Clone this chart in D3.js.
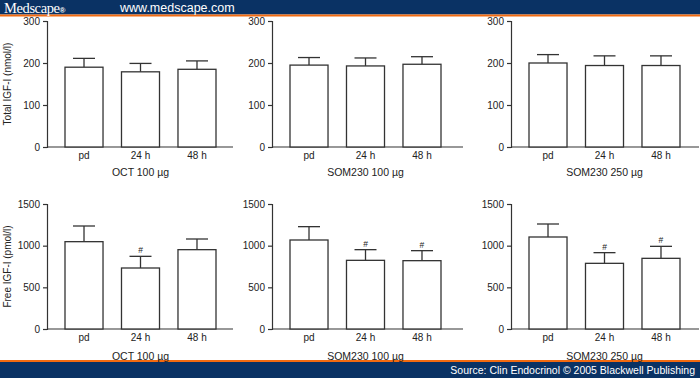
<!DOCTYPE html>
<html><head><meta charset="utf-8">
<script src="https://cdn.jsdelivr.net/npm/d3@7"></script>
<style>body{margin:0;background:#fff}svg{display:block}</style>
</head><body>
<svg id="c" width="700" height="378"></svg>
<script>
const categories = ["pd", "24 h", "48 h"];
const treatments = ["OCT 100 µg", "SOM230 100 µg", "SOM230 250 µg"];
// Total IGF-I (nmol/l): mean and mean+SEM
const totalMean = [[190, 179, 185], [195, 193, 197], [200, 194, 194]];
const totalErr  = [[211, 199, 205], [213, 212, 215], [220, 217, 217]];
// Free IGF-I (pmol/l)
const freeMean = [[1048, 732, 952], [1068, 824, 820], [1104, 788, 848]];
const freeErr  = [[1236, 872, 1080], [1228, 952, 940], [1260, 916, 992]];
const freeSig  = [[false, true, false], [false, true, true], [false, true, true]];
const totalTicks = [0, 100, 200, 300];
const freeTicks = [0, 500, 1000, 1500];
const yTitles = ["Total IGF-I (nmol/l)", "Free IGF-I (pmol/l)"];

const svg = d3.select("#c");
const font = "Helvetica, Arial, 'Liberation Sans', sans-serif";
const ink = "#333";

// header
svg.append("rect").attr("x",0).attr("y",0).attr("width",700).attr("height",14.5).attr("fill","#0a3264");
svg.append("rect").attr("x",0).attr("y",14.5).attr("width",700).attr("height",2).attr("fill","#f26a10");
svg.append("text").attr("x",4).attr("y",12.5).attr("fill","#fff")
  .attr("font-family","'Liberation Serif','DejaVu Serif',serif").attr("font-size",14.5).attr("letter-spacing",-0.4)
  .text("Medscape").append("tspan").attr("font-size",8).attr("font-family",font).attr("font-weight","bold").text("®");
svg.append("text").attr("x",120).attr("y",12).attr("fill","#fff").attr("font-family",font).attr("font-size",12.5).text("www.medscape.com");
// footer
svg.append("rect").attr("x",0).attr("y",360).attr("width",700).attr("height",2).attr("fill","#f26a10");
svg.append("rect").attr("x",0).attr("y",362).attr("width",700).attr("height",16).attr("fill","#0a3264");
svg.append("text").attr("x",695).attr("y",374).attr("text-anchor","end").attr("fill","#fff").attr("font-family",font).attr("font-size",10.5).text("Source: Clin Endocrinol © 2005 Blackwell Publishing");

const axisX = [47, 272, 511];
const axisEnd = [233, 463, 699];
const rows = [
  {top:21, bottom:147, max:300, ticks:totalTicks, mean:totalMean, err:totalErr, sig:null, subY:175.5},
  {top:204, bottom:329, max:1500, ticks:freeTicks, mean:freeMean, err:freeErr, sig:freeSig, subY:359.5}
];

rows.forEach((row, ri) => {
  const y = d3.scaleLinear().domain([0, row.max]).range([row.bottom, row.top]);
  // y title
  svg.append("text").attr("transform",`translate(11,${(row.top+row.bottom)/2}) rotate(-90)`)
    .attr("text-anchor","middle").attr("font-family",font).attr("font-size",10).attr("fill","#222").text(yTitles[ri]);
  treatments.forEach((t, pi) => {
    const ax = axisX[pi];
    const x = d3.scaleBand().domain(categories).range([ax+18, ax+169]).paddingInner(0.327).paddingOuter(0);
    const g = svg.append("g");
    // y axis
    const ya = g.append("g").attr("transform",`translate(${ax},0)`)
      .call(d3.axisLeft(y).tickValues(row.ticks).tickFormat(d3.format("d")).tickSize(4).tickPadding(3));
    ya.select(".domain").attr("stroke",ink).attr("stroke-width",1.2);
    ya.selectAll(".tick line").attr("stroke",ink).attr("stroke-width",1.2);
    ya.selectAll(".tick text").attr("font-family",font).attr("font-size",10).attr("fill","#222");
    // x axis
    const xa = g.append("g").attr("transform",`translate(0,${row.bottom})`)
      .call(d3.axisBottom(x).tickSize(0).tickPadding(5));
    xa.select(".domain").remove();
    xa.selectAll(".tick text").attr("font-family",font).attr("font-size",10).attr("fill","#222");
    g.append("line").attr("x1",ax).attr("x2",axisEnd[pi]).attr("y1",row.bottom).attr("y2",row.bottom)
      .attr("stroke",ink).attr("stroke-width",1.2);
    // error bars
    categories.forEach((c, ci) => {
      const cx = x(c) + x.bandwidth()/2;
      g.append("line").attr("x1",cx).attr("x2",cx).attr("y1",y(row.mean[pi][ci])).attr("y2",y(row.err[pi][ci]))
        .attr("stroke",ink).attr("stroke-width",1.3);
      g.append("line").attr("x1",cx-11).attr("x2",cx+11).attr("y1",y(row.err[pi][ci])).attr("y2",y(row.err[pi][ci]))
        .attr("stroke",ink).attr("stroke-width",1.3);
      if (row.sig && row.sig[pi][ci]) {
        g.append("text").attr("x",cx).attr("y",y(row.err[pi][ci])-3).attr("text-anchor","middle")
          .attr("font-family",font).attr("font-size",8.5).attr("fill","#222").text("#");
      }
    });
    // bars
    g.selectAll("rect.bar").data(categories).join("rect").attr("class","bar")
      .attr("x", c => x(c)).attr("width", x.bandwidth())
      .attr("y", (c, ci) => y(row.mean[pi][ci]))
      .attr("height", (c, ci) => row.bottom - y(row.mean[pi][ci]))
      .attr("fill","#fff").attr("stroke",ink).attr("stroke-width",1.3);
    // subtitle
    svg.append("text").attr("x", x("24 h") + x.bandwidth()/2).attr("y", row.subY).attr("text-anchor","middle")
      .attr("font-family",font).attr("font-size",10.5).attr("fill","#222").text(t);
  });
});
</script>
</body></html>
